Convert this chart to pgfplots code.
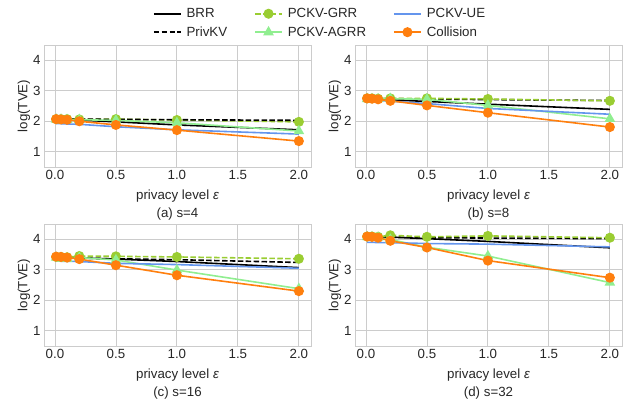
\documentclass[border=0pt]{standalone}
\usepackage{fontspec}
\setmainfont{Liberation Sans}
\usepackage{pgfplots}
\pgfplotsset{compat=1.18}
\definecolor{gridc}{HTML}{CCCCCC}
\definecolor{txt}{HTML}{262626}
\definecolor{cgrr}{HTML}{9ACD32}
\definecolor{cagrr}{HTML}{90EE90}
\definecolor{cue}{HTML}{6495ED}
\definecolor{ccol}{HTML}{FF7F0E}
\pgfplotsset{
  panel/.style={
    width=267pt, height=122pt, scale only axis,
    xmin=-0.0895, xmax=2.0995, ymin=0.5, ymax=4.5,
    xtick={0,0.5,1,1.5,2}, ytick={1,2,3,4},
    xticklabel style={/pgf/number format/.cd,fixed,fixed zerofill,precision=1},
    /pgf/number format/assume math mode=true,
    grid=major, major grid style={gridc, line width=0.8pt},
    axis line style={gridc, line width=1pt},
    major tick length=0pt,
    tick label style={font=\fontsize{13.3}{15}\selectfont, text=txt},
    label style={font=\fontsize{13.3}{18}\selectfont, text=txt},
    ylabel={log(TVE)},
    ylabel style={yshift=-4pt},
    xlabel style={align=center, yshift=-3pt},
  },
  sbrr/.style={black, line width=1.6pt, no markers},
  spkv/.style={black, line width=1.6pt, dash pattern=on 5.5pt off 2.4pt, no markers},
  sgrr/.style={cgrr, line width=1.6pt, dash pattern=on 5.5pt off 2.4pt, mark=*, mark size=4.2pt, mark options={solid, fill=cgrr, draw=cgrr}},
  sagrr/.style={cagrr, line width=1.6pt, mark=triangle*, mark size=4.6pt, mark options={solid, fill=cagrr, draw=cagrr}},
  sue/.style={cue, line width=1.6pt, no markers},
  scol/.style={ccol, line width=1.6pt, mark=*, mark size=4.2pt, mark options={solid, fill=ccol, draw=ccol}},
}
\newcommand{\eps}{{\itshape ε}}
\begin{document}
\begin{tikzpicture}
\useasboundingbox (0,0) rectangle (631pt,-400pt);
% (a)
\begin{axis}[panel, at={(44pt,-167pt)}, anchor=south west,
  xlabel={privacy level \eps\\(a) s=4},
  legend columns=3,
  legend style={at={(1.034,1.18)}, anchor=center, draw=none, fill=none,
    font=\fontsize{13.3}{15}\selectfont, text=txt,
    /tikz/every even column/.append style={column sep=25pt},
    /tikz/every odd column/.append style={column sep=3pt},
    row sep=3.5pt},
  legend image code/.code={\draw[mark repeat=2,mark phase=2,#1] plot coordinates {(0pt,0pt) (13.5pt,0pt) (27pt,0pt)};},
  legend image post style={line width=1.6pt},
  legend cell align=left]
\addplot[sbrr] coordinates {(0.01,2.06)(0.05,2.06)(0.1,2.05)(0.2,2.04)(0.5,1.98)(1.0,1.88)(2.0,1.72)};
\addplot[sgrr] coordinates {(0.01,2.07)(0.05,2.07)(0.1,2.07)(0.2,2.06)(0.5,2.07)(1.0,2.04)(2.0,1.98)};
\addplot[sue] coordinates {(0.01,1.92)(0.05,1.92)(0.1,1.91)(0.2,1.90)(0.5,1.82)(1.0,1.72)(2.0,1.58)};
\addplot[spkv] coordinates {(0.01,2.07)(0.05,2.07)(0.1,2.07)(0.2,2.07)(0.5,2.06)(1.0,2.05)(2.0,2.03)};
\addplot[sagrr] coordinates {(0.01,2.06)(0.05,2.06)(0.1,2.05)(0.2,2.05)(0.5,2.03)(1.0,1.95)(2.0,1.68)};
\addplot[scol] coordinates {(0.01,2.07)(0.05,2.06)(0.1,2.05)(0.2,2.00)(0.5,1.88)(1.0,1.71)(2.0,1.35)};
\legend{BRR,PCKV-GRR,PCKV-UE,PrivKV,PCKV-AGRR,Collision}
\end{axis}
% (b)
\begin{axis}[panel, at={(355pt,-167pt)}, anchor=south west,
  xlabel={privacy level \eps\\(b) s=8}]
\addplot[sbrr] coordinates {(0.01,2.74)(0.05,2.73)(0.1,2.72)(0.2,2.70)(0.5,2.65)(1.0,2.56)(2.0,2.39)};
\addplot[spkv] coordinates {(0.01,2.74)(0.05,2.74)(0.1,2.74)(0.2,2.74)(0.5,2.73)(1.0,2.71)(2.0,2.68)};
\addplot[sgrr] coordinates {(0.01,2.75)(0.05,2.75)(0.1,2.74)(0.2,2.75)(0.5,2.75)(1.0,2.73)(2.0,2.67)};
\addplot[sagrr] coordinates {(0.01,2.73)(0.05,2.73)(0.1,2.73)(0.2,2.74)(0.5,2.72)(1.0,2.52)(2.0,2.08)};
\addplot[sue] coordinates {(0.01,2.69)(0.05,2.69)(0.1,2.68)(0.2,2.66)(0.5,2.58)(1.0,2.42)(2.0,2.23)};
\addplot[scol] coordinates {(0.01,2.75)(0.05,2.74)(0.1,2.72)(0.2,2.67)(0.5,2.52)(1.0,2.28)(2.0,1.81)};
\end{axis}
% (c)
\begin{axis}[panel, at={(44pt,-346pt)}, anchor=south west,
  xlabel={privacy level \eps\\(c) s=16}]
\addplot[sbrr] coordinates {(0.01,3.41)(0.05,3.41)(0.1,3.40)(0.2,3.39)(0.5,3.35)(1.0,3.27)(2.0,3.07)};
\addplot[spkv] coordinates {(0.01,3.39)(0.05,3.39)(0.1,3.39)(0.2,3.38)(0.5,3.36)(1.0,3.33)(2.0,3.24)};
\addplot[sgrr] coordinates {(0.01,3.42)(0.05,3.42)(0.1,3.41)(0.2,3.45)(0.5,3.44)(1.0,3.42)(2.0,3.36)};
\addplot[sagrr] coordinates {(0.01,3.40)(0.05,3.36)(0.1,3.36)(0.2,3.40)(0.5,3.32)(1.0,2.99)(2.0,2.38)};
\addplot[sue] coordinates {(0.01,3.29)(0.05,3.28)(0.1,3.28)(0.2,3.27)(0.5,3.21)(1.0,3.17)(2.0,3.05)};
\addplot[scol] coordinates {(0.01,3.43)(0.05,3.42)(0.1,3.40)(0.2,3.35)(0.5,3.15)(1.0,2.82)(2.0,2.30)};
\end{axis}
% (d)
\begin{axis}[panel, at={(355pt,-346pt)}, anchor=south west,
  xlabel={privacy level \eps\\(d) s=32}]
\addplot[sbrr] coordinates {(0.01,4.08)(0.05,4.08)(0.1,4.08)(0.2,4.07)(0.5,4.02)(1.0,3.93)(2.0,3.72)};
\addplot[spkv] coordinates {(0.01,4.07)(0.05,4.07)(0.1,4.07)(0.2,4.07)(0.5,4.05)(1.0,4.04)(2.0,4.02)};
\addplot[sgrr] coordinates {(0.01,4.09)(0.05,4.09)(0.1,4.08)(0.2,4.13)(0.5,4.08)(1.0,4.11)(2.0,4.05)};
\addplot[sagrr] coordinates {(0.01,4.07)(0.05,4.07)(0.1,4.06)(0.2,3.99)(0.5,3.74)(1.0,3.45)(2.0,2.58)};
\addplot[sue] coordinates {(0.01,3.90)(0.05,3.90)(0.1,3.89)(0.2,3.89)(0.5,3.86)(1.0,3.84)(2.0,3.75)};
\addplot[scol] coordinates {(0.01,4.09)(0.05,4.08)(0.1,4.05)(0.2,3.95)(0.5,3.73)(1.0,3.30)(2.0,2.74)};
\end{axis}
\end{tikzpicture}
\end{document}
